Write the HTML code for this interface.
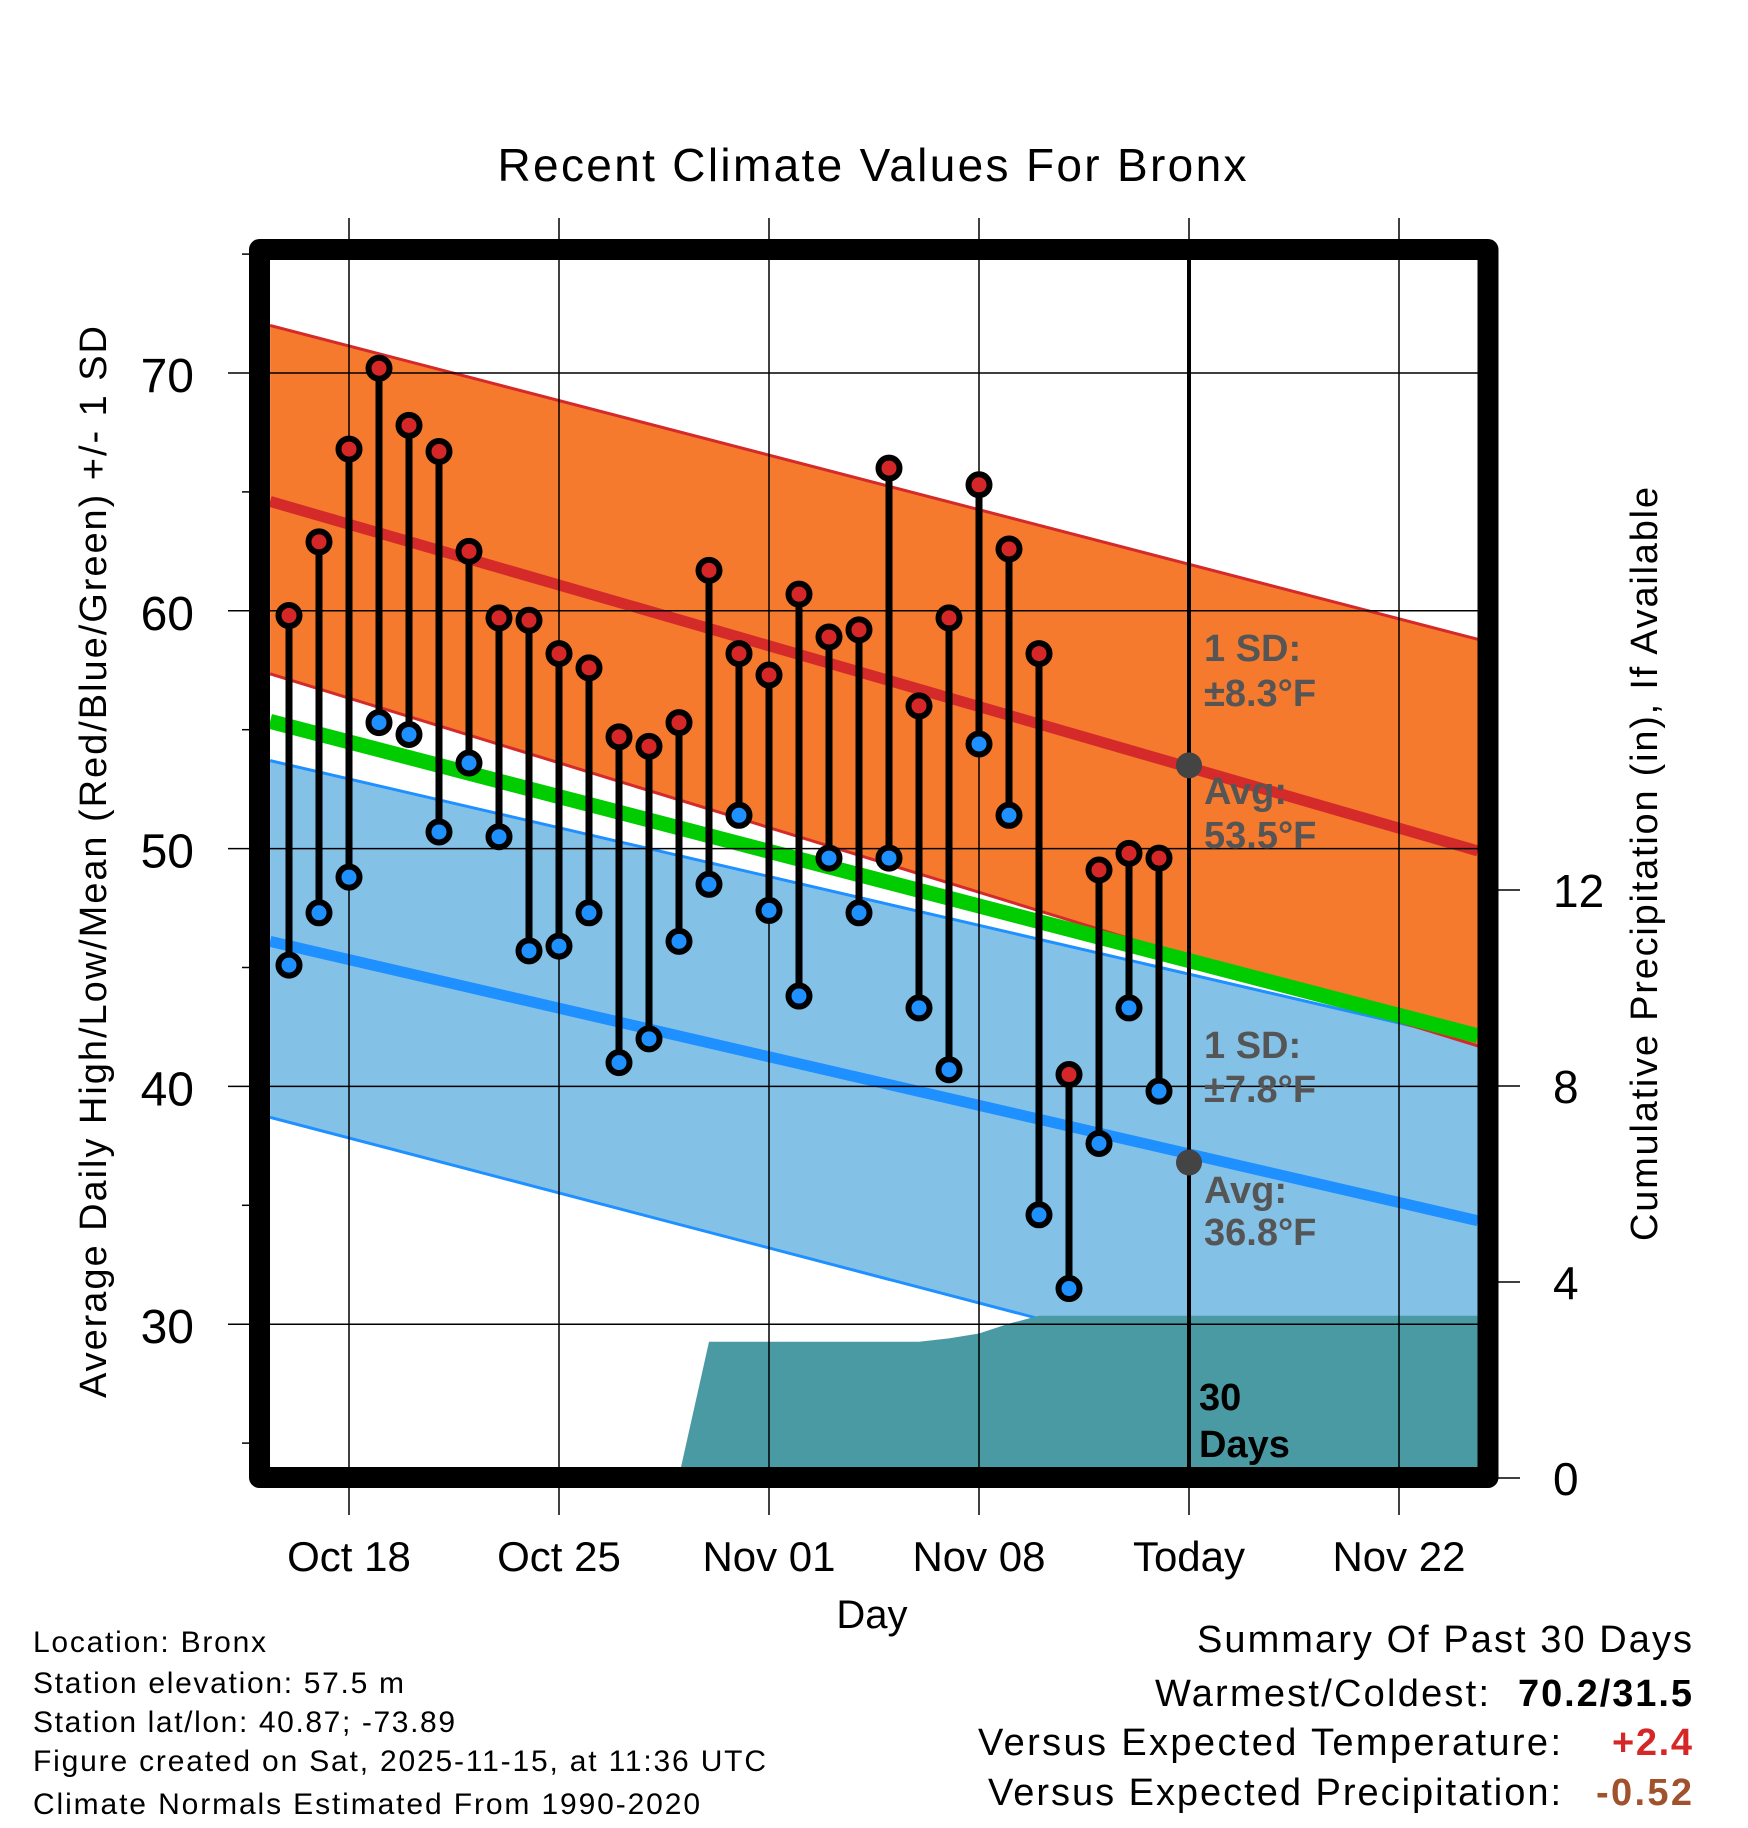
<!DOCTYPE html>
<html><head><meta charset="utf-8"><style>
html,body{margin:0;padding:0;background:#fff;}
svg{display:block;font-family:"Liberation Sans",sans-serif;}
</style></head><body>
<svg id="chart" width="1748" height="1828" viewBox="0 0 1748 1828" xmlns="http://www.w3.org/2000/svg">
<rect width="1748" height="1828" fill="#fff"/>
<defs><clipPath id="plotclip"><rect x="270" y="260" width="1208" height="1208"/></clipPath></defs>
<text x="872" y="181" font-size="46" text-anchor="middle" textLength="749">Recent Climate Values For Bronx</text>
<g id="plot" clip-path="url(#plotclip)"></g>
<g id="axes"></g>
<rect x="259.5" y="249.5" width="1228.5" height="1228" fill="none" stroke="#000" stroke-width="21" stroke-linejoin="round"/>
<text transform="translate(106,862) rotate(-90)" font-size="38" text-anchor="middle" textLength="1072">Average Daily High/Low/Mean (Red/Blue/Green) +/- 1 SD</text>
<text transform="translate(1657,864) rotate(-90)" font-size="38" text-anchor="middle" textLength="754">Cumulative Precipitation (in), If Available</text>
<text x="872" y="1628" font-size="40" text-anchor="middle">Day</text>
<g font-size="30">
<text x="33" y="1652" textLength="233">Location: Bronx</text>
<text x="33" y="1693" textLength="371">Station elevation: 57.5 m</text>
<text x="33" y="1732" textLength="422">Station lat/lon: 40.87; -73.89</text>
<text x="33" y="1771" textLength="733">Figure created on Sat, 2025-11-15, at 11:36 UTC</text>
<text x="33" y="1814" textLength="667">Climate Normals Estimated From 1990-2020</text>
</g>
<g font-size="38">
<text x="1692" y="1652" text-anchor="end" textLength="495">Summary Of Past 30 Days</text>
<text x="1489" y="1706" text-anchor="end" textLength="334">Warmest/Coldest:</text>
<text x="1692" y="1706" text-anchor="end" font-weight="bold" textLength="174">70.2/31.5</text>
<text x="1561" y="1755" text-anchor="end" textLength="583">Versus Expected Temperature:</text>
<text x="1692" y="1755" text-anchor="end" font-weight="bold" fill="#d62728" textLength="80">+2.4</text>
<text x="1561" y="1805" text-anchor="end" textLength="573">Versus Expected Precipitation:</text>
<text x="1692" y="1805" text-anchor="end" font-weight="bold" fill="#a0522d" textLength="96">-0.52</text>
</g>
</svg>
<script>
const days = [-2,-1,0,1,2,3,4,5,6,7,8,9,10,11,12,13,14,15,16,17,18,19,20,21,22,23,24,25,26,27];
const highs = [59.8,62.9,66.8,70.2,67.8,66.7,62.5,59.7,59.6,58.2,57.6,54.7,54.3,55.3,61.7,58.2,57.3,60.7,58.9,59.2,66.0,56.0,59.7,65.3,62.6,58.2,40.5,49.1,49.8,49.6];
const lows = [45.1,47.3,48.8,55.3,54.8,50.7,53.6,50.5,45.7,45.9,47.3,41.0,42.0,46.1,48.5,51.4,47.4,43.8,49.6,47.3,49.6,43.3,40.7,54.4,51.4,34.6,31.5,37.6,43.3,39.8];
const precip = [0,0,0,0,0,0,0.04,0.04,0.04,0.04,0.04,0.04,0.04,0.04,2.78,2.78,2.78,2.78,2.78,2.78,2.78,2.78,2.85,2.95,3.15,3.31,3.31,3.31,3.31,3.31];
// normals at plot start day and plot end day
const normalDays = [-2.63, 37.63];
const highUpper = [72.0, 58.8];
const highMean = [64.6, 49.9];
const highLower = [57.35, 41.7];
const lowUpper = [53.7, 41.9];
const lowMean = [46.1, 34.35];
const lowLower = [38.7, 25.4];
const todayNormals = [53.5, 36.8];
const todayDay = 28;
const xTickDays = [0,7,14,21,28,35];
const xTickLabels = ["Oct 18","Oct 25","Nov 01","Nov 08","Today","Nov 22"];
const yTicks = [30,40,50,60,70];
const y2Ticks = [0,4,8,12];

const NS="http://www.w3.org/2000/svg";
const xS=d=>349+30*d;
const yS=v=>373+(70-v)*23.78;
const pS=p=>1478-49*p;
const D0=normalDays[0], D1=normalDays[1];
function mk(parent,tag,attrs){const e=document.createElementNS(NS,tag);for(const k in attrs)e.setAttribute(k,attrs[k]);parent.appendChild(e);return e;}
const plot=document.getElementById('plot'), axes=document.getElementById('axes');
function band(up,lo,fill,name){
  const pts=[[D0,up[0]],[D1,up[1]],[D1,lo[1]],[D0,lo[0]]].map(p=>xS(p[0])+','+yS(p[1])).join(' ');
  const e=mk(plot,'polygon',{points:pts,fill:fill});
  
  
}
function line(arr,color,w,name){
  const e=mk(plot,'line',{x1:xS(D0),y1:yS(arr[0]),x2:xS(D1),y2:yS(arr[1]),stroke:color,'stroke-width':w});
  
  
}
band(lowUpper,lowLower,'#84c1e7','low-sd-band');
line(lowUpper,'#1e90ff',3,'low-sd-upper-edge');
line(lowLower,'#1e90ff',3,'low-sd-lower-edge');
line(lowMean,'#1e90ff',11,'normal-low-line');
band(highUpper,highLower,'#f57a2e','high-sd-band');
line(highUpper,'#d42a2a',3,'high-sd-upper-edge');
line(highLower,'#d42a2a',3,'high-sd-lower-edge');
line(highMean,'#d42a2a',11,'normal-high-line');
line([(highMean[0]+lowMean[0])/2,(highMean[1]+lowMean[1])/2],'#00cc00',15,'normal-mean-line');
let pp=[[xS(D0),pS(0)],[xS(D0),pS(precip[0])]];
days.forEach((d,i)=>pp.push([xS(d),pS(precip[i])]));
pp.push([xS(D1),pS(precip[precip.length-1])],[xS(D1),pS(0)]);
const pa=mk(plot,'polygon',{points:pp.map(p=>p.join(',')).join(' '),fill:'#4a9aa4'});


xTickDays.forEach((d,i)=>{
  const g=mk(axes,'line',{x1:xS(d),y1:218,x2:xS(d),y2:1515,stroke:'#000','stroke-width':1.5});
  
  
  const t=mk(axes,'text',{x:xS(d),y:1571,'font-size':42,'text-anchor':'middle'});
  t.textContent=xTickLabels[i];
  
  
});
yTicks.forEach(v=>{
  const g=mk(axes,'line',{x1:228,y1:yS(v),x2:1478,y2:yS(v),stroke:'#000','stroke-width':1.5});
  
  
  const t=mk(axes,'text',{x:194,y:yS(v)+19,'font-size':48,'text-anchor':'end'});
  t.textContent=v;
  
  
});
[25,35,45,55,65,75].forEach(v=>{
  const g=mk(axes,'line',{x1:242,y1:yS(v),x2:255,y2:yS(v),stroke:'#000','stroke-width':1.5});
  
  
});
y2Ticks.forEach(p=>{
  const g=mk(axes,'line',{x1:1495,y1:pS(p),x2:1520,y2:pS(p),stroke:'#000','stroke-width':1.5});
  
  
  const t=mk(axes,'text',{x:1553,y:pS(p)+17,'font-size':46});
  t.textContent=p;
  
  
});
const tl=mk(axes,'line',{x1:xS(todayDay),y1:260,x2:xS(todayDay),y2:1468,stroke:'#000','stroke-width':4});


days.forEach((d,i)=>{
  const s=mk(axes,'line',{x1:xS(d),y1:yS(highs[i]),x2:xS(d),y2:yS(lows[i]),stroke:'#000','stroke-width':7});
  
  
});
days.forEach((d,i)=>{
  const h=mk(axes,'circle',{cx:xS(d),cy:yS(highs[i]),r:10.5,fill:'#d62728',stroke:'#000','stroke-width':6});
  
  
  const l=mk(axes,'circle',{cx:xS(d),cy:yS(lows[i]),r:10.5,fill:'#1e90ff',stroke:'#000','stroke-width':6});
  
  
});
todayNormals.forEach(v=>{
  const c=mk(axes,'circle',{cx:xS(todayDay),cy:yS(v),r:13,fill:'#444'});
  
  
});
const ann=[["1 SD:",661],["±8.3°F",706],["Avg:",804],["53.5°F",848],["1 SD:",1058],["±7.8°F",1102],["Avg:",1203],["36.8°F",1245]];
ann.forEach(a=>{
  const t=mk(axes,'text',{x:1204,y:a[1],'font-size':38,'font-weight':'bold',fill:'#555'});
  t.textContent=a[0];
  
  
});
[["30",1410],["Days",1457]].forEach(a=>{
  const t=mk(axes,'text',{x:1199,y:a[1],'font-size':38,'font-weight':'bold',fill:'#000'});
  t.textContent=a[0];
  
  
});
</script>
</body></html>
